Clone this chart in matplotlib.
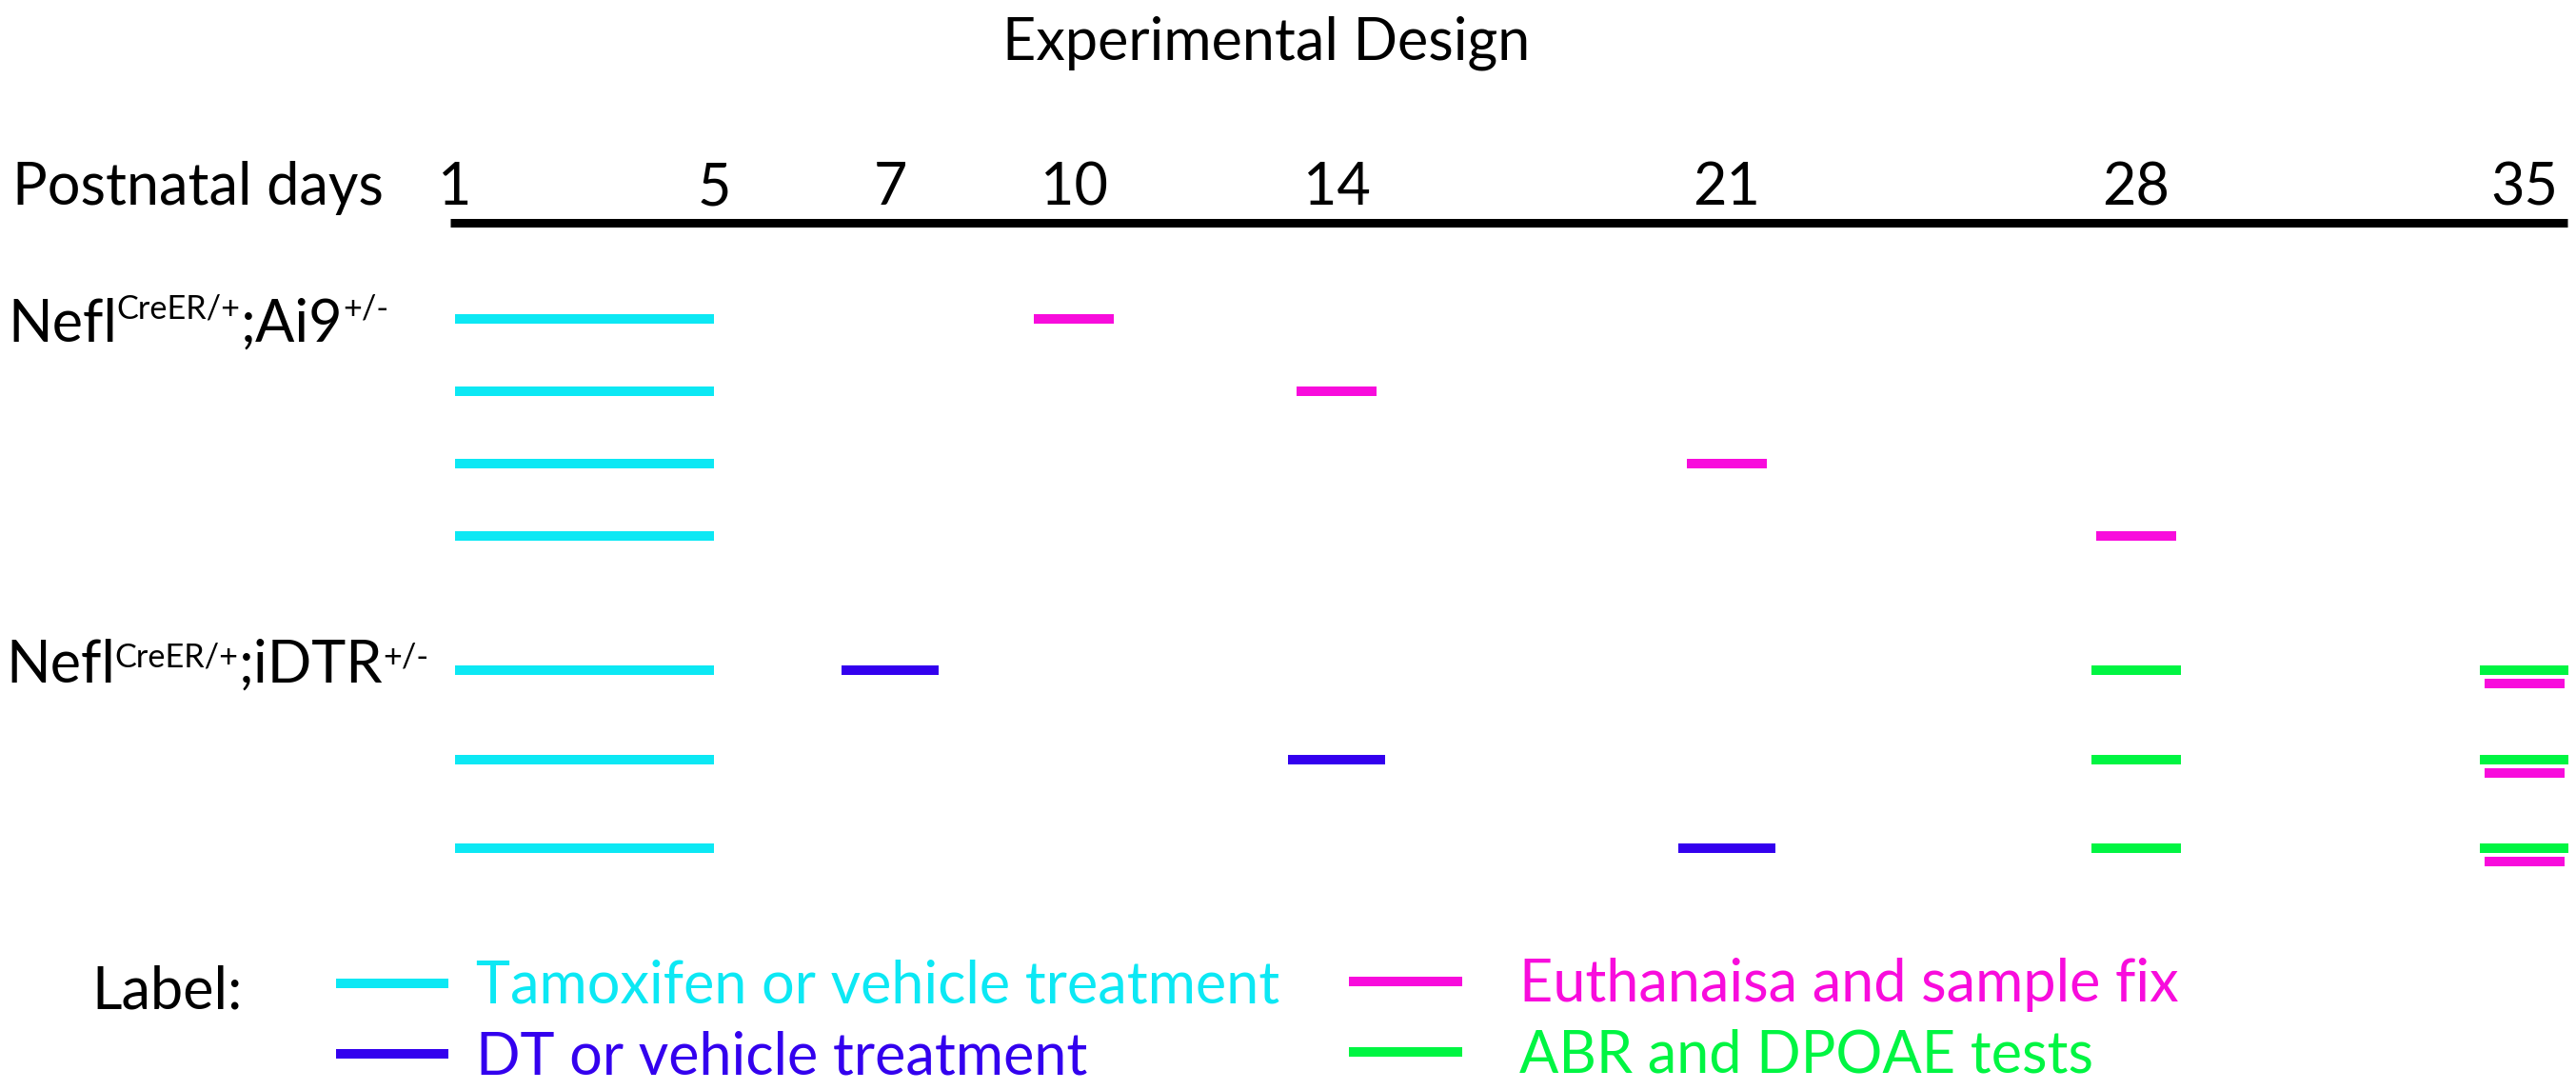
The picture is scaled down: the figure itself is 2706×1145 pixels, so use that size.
import numpy as np
import matplotlib
matplotlib.use("Agg")
import matplotlib.pyplot as plt
from matplotlib.lines import Line2D

plt.rcParams["font.family"] = ["Lato", "DejaVu Sans"]
plt.rcParams["lines.solid_capstyle"] = "butt"

# ---------------- data ----------------
title = "Experimental Design"
axis_label = "Postnatal days"
tick_days = [1, 5, 7, 10, 14, 21, 28, 35]
tick_labels = ["1", "5", "7", "10", "14", "21", "28", "35"]

ai9_rows = [0, 1, 2, 3]
ai9_tam_start = [1, 1, 1, 1]
ai9_tam_end = [5, 5, 5, 5]
ai9_euth_day = [10, 14, 21, 28]

dtr_rows = [0, 1, 2]
dtr_tam_start = [1, 1, 1]
dtr_tam_end = [5, 5, 5]
dtr_dt_day = [7, 14, 21]
dtr_abr_day_a = [28, 28, 28]
dtr_abr_day_b = [35, 35, 35]
dtr_euth_day = [35, 35, 35]

legend_labels = ["Tamoxifen or vehicle treatment", "DT or vehicle treatment",
                 "Euthanaisa and sample fix", "ABR and DPOAE tests"]

# ---------------- style / layout ----------------
CYAN = "#0CE8F4"
BLUE = "#3300EE"
MAGENTA = "#F80CDC"
GREEN = "#00F542"

W, H = 2706, 1145
FS = 44            # base font size (pt)
SUP = FS * 0.56    # superscript size
LW = 7.2           # bar thickness (pt)

def fx(px):
    return px / W

def fy(py):
    return 1 - py / H

# schematic (hand-placed) positions of the day ticks along the timeline, in px
tick_layout_px = [478, 750, 935, 1128, 1404, 1814, 2244, 2652]
AX_L, AX_R = 473, 2697

def _pl(x, xp, fp):
    x = np.asarray(x, dtype=float)
    xp = np.asarray(xp, dtype=float)
    fp = np.asarray(fp, dtype=float)
    y = np.interp(x, xp, fp)
    s0 = (fp[1] - fp[0]) / (xp[1] - xp[0])
    s1 = (fp[-1] - fp[-2]) / (xp[-1] - xp[-2])
    y = np.where(x < xp[0], fp[0] + (x - xp[0]) * s0, y)
    y = np.where(x > xp[-1], fp[-1] + (x - xp[-1]) * s1, y)
    return y

def fwd(d):
    return _pl(d, tick_days, tick_layout_px)

def inv(p):
    return _pl(p, tick_layout_px, tick_days)

fig = plt.figure(figsize=(W / 100, H / 100), dpi=100)
fig.patch.set_facecolor("white")

# timeline header axis
axw = fx(AX_R) - fx(AX_L)
ax_head = fig.add_axes([fx(AX_L), fy(234.5), axw, 1e-4])
ax_head.set_xscale("function", functions=(fwd, inv))
ax_head.set_xlim(float(inv(AX_L)), float(inv(AX_R)))
for s in ["left", "right", "bottom"]:
    ax_head.spines[s].set_visible(False)
ax_head.spines["top"].set_linewidth(6.5)
ax_head.spines["top"].set_capstyle("butt")
ax_head.set_yticks([])
ax_head.xaxis.tick_top()
ax_head.set_xticks(tick_days, tick_labels)
ax_head.tick_params(axis="x", length=0, pad=6.0, labelsize=FS)
ax_head.set_facecolor("none")

# group 1 : Nefl CreER/+ ; Ai9 +/-
ax_a = fig.add_axes([fx(AX_L), fy(601), axw, (601 - 297) / H], sharex=ax_head)
ax_a.set_ylim(3.5, -0.5)
ax_a.axis("off")
ax_a.hlines(ai9_rows, ai9_tam_start, ai9_tam_end, color=CYAN, lw=LW)
ax_a.plot(ai9_euth_day, ai9_rows, ls="none", marker="_", ms=59.8, mew=LW, color=MAGENTA)

# group 2 : Nefl CreER/+ ; iDTR +/-
ax_b = fig.add_axes([fx(AX_L), fy(937.75), axw, (937.75 - 657.25) / H], sharex=ax_head)
ax_b.set_ylim(2.5, -0.5)
ax_b.axis("off")
ax_b.hlines(dtr_rows, dtr_tam_start, dtr_tam_end, color=CYAN, lw=LW)
ax_b.plot(dtr_dt_day, dtr_rows, ls="none", marker="_", ms=73.4, mew=LW, color=BLUE)
ax_b.plot(dtr_abr_day_a, dtr_rows, ls="none", marker="_", ms=67.7, mew=LW, color=GREEN)
ax_b.plot(dtr_abr_day_b, dtr_rows, ls="none", marker="_", ms=67.7, mew=LW, color=GREEN)
ax_b.plot(dtr_euth_day, np.asarray(dtr_rows) + 0.15, ls="none", marker="_", ms=59.8,
          mew=LW, color=MAGENTA)

# texts
fig.text(fx(1330), fy(62), title, ha="center", va="baseline", fontsize=FS)
fig.text(fx(13), fy(215), axis_label, ha="left", va="baseline", fontsize=FS)


def rich_text(x_px, base_px, pieces):
    prev = fig.text(fx(x_px), fy(base_px), pieces[0][0], fontsize=pieces[0][1],
                    ha="left", va="baseline")
    for txt, size, rise_px in pieces[1:]:
        prev = ax_head.annotate(txt, xy=(1, fy(base_px)), xycoords=(prev, "figure fraction"),
                                xytext=(0, rise_px * 0.72), textcoords="offset points",
                                fontsize=size, ha="left", va="baseline",
                                annotation_clip=False)


rich_text(8, 359, [("Nefl", FS, 0), ("CreER/+", SUP, 24), (";Ai9", FS, 0), ("+/-", SUP, 24)])
rich_text(6, 717, [("Nefl", FS, 0), ("CreER/+", SUP, 17), (";iDTR", FS, 0), ("+/-", SUP, 17)])

# legend
fig.text(fx(96), fy(1060), "Label:", ha="left", va="baseline", fontsize=FS)
colors = [CYAN, BLUE, MAGENTA, GREEN]
handles = [Line2D([], [], color=c, lw=LW) for c in colors]
common = dict(loc="upper left", frameon=False, fontsize=FS, labelspacing=0.28,
              borderpad=0, borderaxespad=0, labelcolor="linecolor")
fig.legend(handles[:2], legend_labels[:2], bbox_to_anchor=(fx(353), fy(1008)),
           handlelength=1.93, handletextpad=0.47, **common)
fig.legend(handles[2:], legend_labels[2:], bbox_to_anchor=(fx(1417), fy(1006)),
           handlelength=1.95, handletextpad=0.98, **common)

fig.savefig("out.png", dpi=100, facecolor="white")
